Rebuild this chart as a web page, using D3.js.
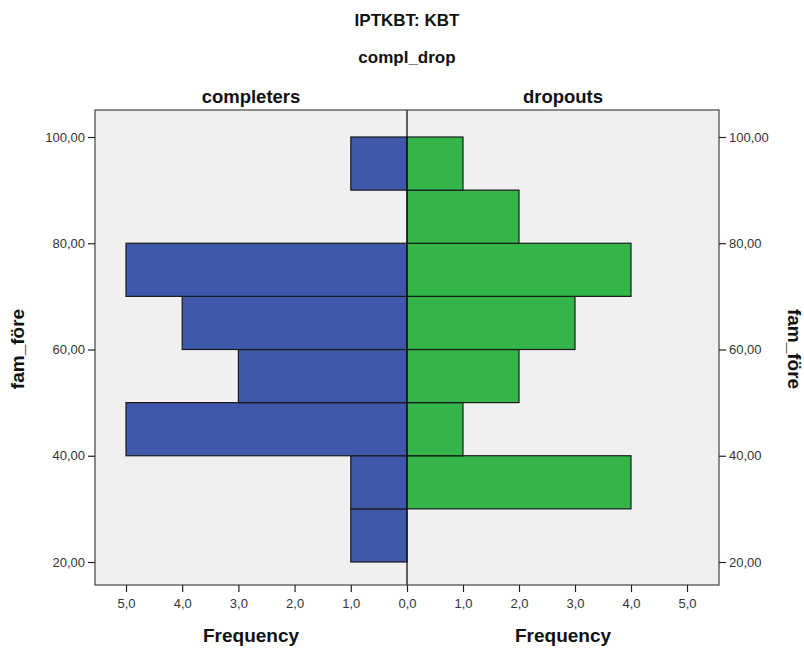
<!DOCTYPE html>
<html>
<head>
<meta charset="utf-8">
<script src="https://cdn.jsdelivr.net/npm/d3@7"></script>
<style>
  body { margin: 0; background: #fff; }
  svg { display: block; font-family: "Liberation Sans", Arial, sans-serif; }
  .tick text { fill: #333; font-size: 13px; }
  .title { font-weight: bold; fill: #111; }
</style>
</head>
<body>
<svg id="chart" width="804" height="648"></svg>
<script>
// bins of fam_före (lower edge, width 10)
const binStarts = [20, 30, 40, 50, 60, 70, 80, 90];
const completers = [1, 1, 5, 3, 4, 5, 0, 1];
const dropouts = [0, 4, 1, 2, 3, 4, 2, 1];
const yTicks = [20, 40, 60, 80, 100];
const xTicks = [0, 1, 2, 3, 4, 5];

const svg = d3.select("#chart");

// plot box
const plotLeft = 95, plotRight = 719, plotTop = 110, plotBottom = 585;
const center = 407;

const y = d3.scaleLinear().domain([20, 100]).range([562, 137]);
const xL = d3.scaleLinear().domain([0, 5]).range([center, 126]);
const xR = d3.scaleLinear().domain([0, 5]).range([center, 687]);

const fmt = (d) => d.toFixed(2).replace(".", ",");
const fmtX = (d) => d.toFixed(1).replace(".", ",");

svg.append("rect")
  .attr("x", plotLeft).attr("y", plotTop)
  .attr("width", plotRight - plotLeft).attr("height", plotBottom - plotTop)
  .attr("fill", "#f0f0f0");

// left (completers)
svg.append("g").selectAll("rect")
  .data(binStarts.map((b, i) => ({ b, v: completers[i] })).filter(d => d.v > 0))
  .join("rect")
  .attr("x", d => xL(d.v))
  .attr("y", d => y(d.b + 10))
  .attr("width", d => xL(0) - xL(d.v))
  .attr("height", d => y(d.b) - y(d.b + 10))
  .attr("fill", "#3f58aa")
  .attr("stroke", "#1a1a1a")
  .attr("stroke-width", 1.2);

// right (dropouts)
svg.append("g").selectAll("rect")
  .data(binStarts.map((b, i) => ({ b, v: dropouts[i] })).filter(d => d.v > 0))
  .join("rect")
  .attr("x", xR(0))
  .attr("y", d => y(d.b + 10))
  .attr("width", d => xR(d.v) - xR(0))
  .attr("height", d => y(d.b) - y(d.b + 10))
  .attr("fill", "#33b54a")
  .attr("stroke", "#1a1a1a")
  .attr("stroke-width", 1.2);

// center divider
svg.append("line")
  .attr("x1", center).attr("x2", center)
  .attr("y1", plotTop).attr("y2", plotBottom)
  .attr("stroke", "#111").attr("stroke-width", 1.3);

// frame
svg.append("rect")
  .attr("x", plotLeft).attr("y", plotTop)
  .attr("width", plotRight - plotLeft).attr("height", plotBottom - plotTop)
  .attr("fill", "none").attr("stroke", "#444").attr("stroke-width", 1.2);

// axes
const styleAxis = (g) => {
  g.select(".domain").remove();
  g.selectAll(".tick line").attr("stroke", "#222").attr("stroke-width", 1.2);
};

svg.append("g")
  .attr("transform", `translate(${plotLeft},0)`)
  .call(d3.axisLeft(y).tickValues(yTicks).tickFormat(fmt).tickSize(7).tickPadding(3))
  .call(styleAxis);

svg.append("g")
  .attr("transform", `translate(${plotRight},0)`)
  .call(d3.axisRight(y).tickValues(yTicks).tickFormat(fmt).tickSize(7).tickPadding(3))
  .call(styleAxis);

svg.append("g")
  .attr("transform", `translate(0,${plotBottom})`)
  .call(d3.axisBottom(xL).tickValues(xTicks).tickFormat(fmtX).tickSize(7).tickPadding(7))
  .call(styleAxis);

svg.append("g")
  .attr("transform", `translate(0,${plotBottom})`)
  .call(d3.axisBottom(xR).tickValues(xTicks.slice(1)).tickFormat(fmtX).tickSize(7).tickPadding(7))
  .call(styleAxis);

// titles
const addText = (txt, x, yy, size, rot) => {
  const t = svg.append("text")
    .attr("class", "title")
    .attr("text-anchor", "middle")
    .attr("font-size", size)
    .text(txt);
  if (rot) t.attr("transform", `translate(${x},${yy}) rotate(${rot})`);
  else t.attr("x", x).attr("y", yy);
};

addText("IPTKBT: KBT", 407, 26, 17);
addText("compl_drop", 407, 63, 17);
addText("completers", 251, 103, 18.5);
addText("dropouts", 563, 103, 18.5);
addText("Frequency", 251, 642, 19);
addText("Frequency", 563, 642, 19);
addText("fam_före", 24, 349, 19, -90);
addText("fam_före", 788, 349, 19, 90);
</script>
</body>
</html>
